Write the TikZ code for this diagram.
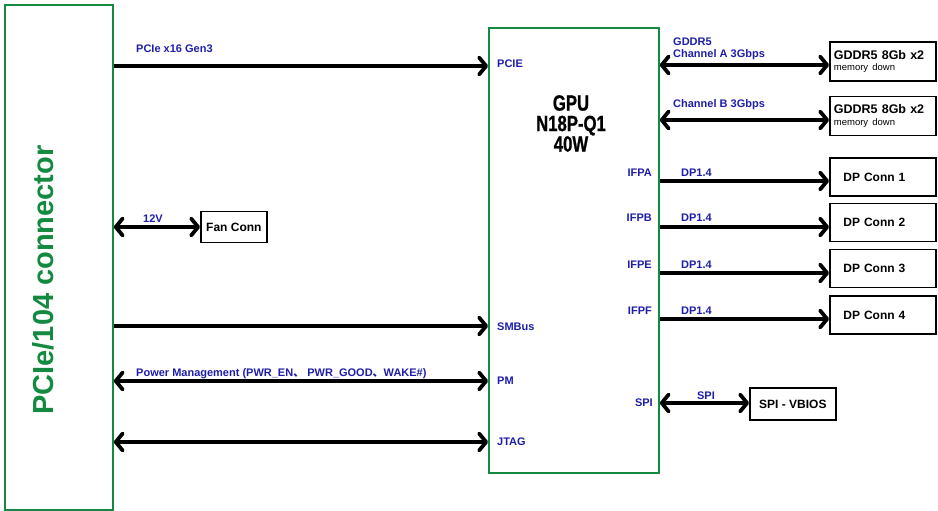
\documentclass[tikz,border=0pt]{standalone}
\usepackage{fontspec}
\setmainfont{Liberation Sans}
\newfontfamily\cjkfont{Noto Sans CJK SC}
\newfontfamily\gpufont{Liberation Sans Bold}[FakeStretch=0.76, FakeBold=1]
\usepackage{xcolor}
\definecolor{conn-green}{HTML}{138A3F}
\definecolor{label-blue}{HTML}{1E1EAA}
\usetikzlibrary{arrows.meta, positioning}

\begin{document}
\begin{tikzpicture}[x=1pt, y=-1pt,
        every node/.style={font=\bfseries\fontsize{12}{14}\selectfont},
        barb/.tip={Straight Barb[length=7pt, width=17pt, round]},
        gbox/.style={draw=conn-green, line width=1.8pt, inner sep=0pt},
        blk/.style={draw, line width=1.8pt, inner sep=0pt},
        dpblk/.style={blk, minimum height=38pt, text width=79pt, inner xsep=13.5pt, align=left},
        memblk/.style={blk, minimum height=39pt, text width=98pt, inner xsep=4pt, align=left,
          font=\bfseries\fontsize{12.5}{11.5}\selectfont},
        sig/.style={text=label-blue, inner sep=0pt, font=\bfseries\fontsize{11}{12}\selectfont},
        bus/.style={line width=3.8pt, -barb},
        dbus/.style={line width=3.8pt, barb-barb}]
      \useasboundingbox (0,0) rectangle (938,511);

      % connector and GPU
      \node[gbox, minimum width=108pt, minimum height=505pt, anchor=north west] (conn) at (4,4) {};
      \node[rotate=90, text=conn-green, font=\bfseries\fontsize{29}{31}\selectfont] (connlbl) at (43,280) {PCIe/104 connector};
      \node[gbox, minimum width=170pt, minimum height=445pt, anchor=north west] (gpu) at (488,27) {};
      \node[align=center, font=\gpufont\fontsize{22}{20.5}\selectfont] (gputitle) at (571,123.5) {GPU\\N18P-Q1\\40W};

      % left side
      \node[sig, anchor=base west] (pcielbl) at (136,53) {PCIe x16 Gen3};
      \node[sig, anchor=base west] (pcieport) at (497,68) {PCIE};
      \draw[bus] (conn.east |- 0,66) -- (gpu.west |- 0,66);

      \node[blk, minimum width=66pt, minimum height=31pt, anchor=west] (fan) at (200,227) {Fan Conn};
      \node[sig, anchor=base] (fanlbl) at (153,222) {12V};
      \draw[dbus] (conn.east |- fan.west) -- (fan.west);

      \node[sig, anchor=base west] (smbport) at (497,330) {SMBus};
      \draw[bus] (conn.east |- 0,326) -- (gpu.west |- 0,326);

      \node[sig, anchor=base west] (pmlbl) at (136,376)
            {Power Management (PWR\_EN{\cjkfont 、} PWR\_GOOD{\cjkfont 、}WAKE\#)};
      \node[sig, anchor=base west] (pmport) at (497,384) {PM};
      \draw[dbus] (conn.east |- 0,381) -- (gpu.west |- 0,381);

      \node[sig, anchor=base west] (jtagport) at (497,445) {JTAG};
      \draw[dbus] (conn.east |- 0,442) -- (gpu.west |- 0,442);

      % memory
      \node[memblk, anchor=west] (gddra) at (829,61.5) {GDDR5 8Gb x2\\{\mdseries\fontsize{9.5}{11}\selectfont memory down}};
      \node[sig, anchor=south west, align=left] (chalbl) at (673,59.5) {GDDR5\\Channel A 3Gbps};
      \draw[dbus] (gpu.east |- 0,65) -- (gddra.west |- 0,65);

      \node[memblk, anchor=west] (gddrb) at (829,116) {GDDR5 8Gb x2\\{\mdseries\fontsize{9.5}{11}\selectfont memory down}};
      \node[sig, anchor=base west] (chblbl) at (673,107) {Channel B 3Gbps};
      \draw[dbus] (gpu.east |- 0,120) -- (gddrb.west |- 0,120);

      % display ports
      \node[dpblk, anchor=west] (dp1) at (829,177) {DP Conn 1};
      \node[sig, anchor=base east] (ifpa) at (652,176) {IFPA};
      \node[sig, anchor=base west] (dplbla) at (681,176) {DP1.4};
      \draw[bus] (gpu.east |- 0,181) -- (dp1.west |- 0,181);

      \node[dpblk, anchor=west] (dp2) at (829,222.5) {DP Conn 2};
      \node[sig, anchor=base east] (ifpb) at (652,221) {IFPB};
      \node[sig, anchor=base west] (dplblb) at (681,221) {DP1.4};
      \draw[bus] (gpu.east |- 0,227) -- (dp2.west |- 0,227);

      \node[dpblk, anchor=west] (dp3) at (829,268.5) {DP Conn 3};
      \node[sig, anchor=base east] (ifpe) at (652,268) {IFPE};
      \node[sig, anchor=base west] (dplble) at (681,268) {DP1.4};
      \draw[bus] (gpu.east |- 0,273) -- (dp3.west |- 0,273);

      \node[dpblk, anchor=west] (dp4) at (829,315) {DP Conn 4};
      \node[sig, anchor=base east] (ifpf) at (652,314) {IFPF};
      \node[sig, anchor=base west] (dplblf) at (681,314) {DP1.4};
      \draw[bus] (gpu.east |- 0,319) -- (dp4.west |- 0,319);

      % bios
      \node[blk, minimum width=86pt, minimum height=32pt, anchor=west] (vbios) at (749,404) {SPI - VBIOS};
      \node[sig, anchor=base east] (spiport) at (653,406) {SPI};
      \node[sig, anchor=base] (spilbl) at (706,399) {SPI};
      \draw[dbus] (gpu.east |- 0,403) -- (vbios.west |- 0,403);
    \end{tikzpicture}
\end{document}
